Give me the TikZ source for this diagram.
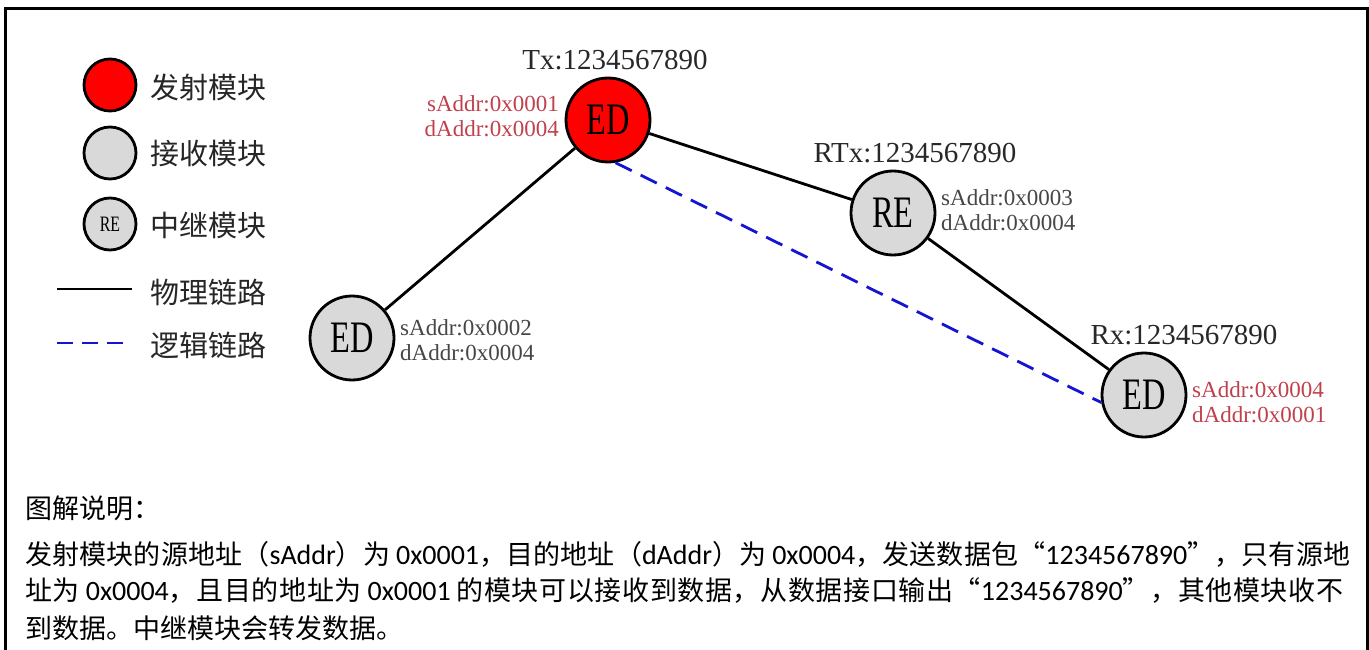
\documentclass[tikz,border=0pt]{standalone}
\usepackage{fontspec}
\setmainfont{Liberation Serif}
\newfontfamily\cjk{Noto Sans CJK SC}
\newfontfamily\lat{Carlito}
\newfontfamily\cond[FakeStretch=0.72]{Liberation Serif}
\definecolor{nodered}{RGB}{255,0,0}
\definecolor{nodegray}{RGB}{217,217,217}
\definecolor{addrred}{RGB}{192,64,77}
\definecolor{addrgray}{RGB}{70,70,70}
\definecolor{linkblue}{RGB}{20,20,210}
\definecolor{labeldark}{RGB}{40,40,40}
% stretchable glue between CJK characters (for justified lines)
\newXeTeXintercharclass\mycjkclass
\newcount\mycjkc
\mycjkc="3000
\loop \XeTeXcharclass\mycjkc=\mycjkclass \advance\mycjkc by 1 \ifnum\mycjkc<"A000 \repeat
\mycjkc="FF00
\loop \XeTeXcharclass\mycjkc=\mycjkclass \advance\mycjkc by 1 \ifnum\mycjkc<"FFF0 \repeat
\XeTeXcharclass"201C=\mycjkclass
\XeTeXcharclass"201D=\mycjkclass
\XeTeXinterchartoks\mycjkclass\mycjkclass={\hskip 0pt plus 1pt\relax}
\XeTeXinterchartokenstate=1
\newcommand{\latsp}{\hspace{6pt}}
\begin{document}
\begin{tikzpicture}[x=1pt,y=-1pt,
  devnode/.style={circle, draw=black, line width=2.8pt, minimum size=84pt, inner sep=0pt,
    font=\cond\fontsize{45}{45}\selectfont},
  legnode/.style={circle, draw=black, line width=2.8pt, minimum size=52pt, inner sep=0pt,
    font=\cond\fontsize{22}{22}\selectfont},
  legtext/.style={anchor=west, inner sep=0pt, font=\cjk\fontsize{29}{29}\selectfont, text=black!85},
  idlabel/.style={inner sep=0pt, font=\fontsize{29}{29}\selectfont, text=labeldark},
  addr/.style={inner sep=0pt, font=\fontsize{23}{25}\selectfont},
  phys/.style={draw=black, line width=2.8pt},
  logic/.style={draw=linkblue, line width=2.8pt, dash pattern=on 18pt off 10pt},
  bodytext/.style={anchor=west, inner sep=0pt, font=\cjk\fontsize{27}{27}\selectfont},
]
\useasboundingbox (0,0) rectangle (1369,650);
\fill[white] (0,0) rectangle (1369,650);
% frame (open at the bottom)
\draw[line width=3pt] (5,700) -- (5,9) -- (1367,9) -- (1367,700);

% legend
\node[legnode, fill=nodered] (lt) at (110,85) {};
\node[legnode, fill=nodegray] (lr) at (110,153) {};
\node[legnode, fill=nodegray] (lre) at (110,224) {RE};
\node[legtext] (ltt) at (150,87) {发射模块};
\node[legtext] (lrt) at (150,154) {接收模块};
\node[legtext] (lret) at (150,225) {中继模块};
\node[legtext] (lpt) at (150,292) {物理链路};
\node[legtext] (llt) at (150,345) {逻辑链路};
\coordinate (lpa) at (57,289);
\coordinate (lpb) at (132,289);
\coordinate (lla) at (57,343);
\coordinate (llb) at (132,343);
\draw[phys] (lpa) -- (lpb);
\draw[logic, dash pattern=on 16pt off 9pt] (lla) -- (llb);

% devices
\node[devnode, fill=nodered] (tx) at (608,120) {ED};
\node[devnode, fill=nodegray] (ed2) at (352,338) {ED};
\node[devnode, fill=nodegray] (re) at (893,213) {RE};
\node[devnode, fill=nodegray] (rx) at (1144,395) {ED};

% links
\draw[phys] (tx) -- (ed2);
\draw[phys] (tx) -- (re);
\draw[phys] (re) -- (rx);
\draw[logic] (tx.280) -- (rx.190);

% labels
\node[idlabel] (txl) at (615,60) {Tx:1234567890};
\node[idlabel] (rel) at (915,153) {RTx:1234567890};
\node[idlabel] (rxl) at (1184,335) {Rx:1234567890};

\node[addr, text=addrred, anchor=east, align=right] (txa) at (559,116) {sAddr:0x0001\\dAddr:0x0004};
\node[addr, text=addrgray, anchor=west, align=left] (eda) at (400,340) {sAddr:0x0002\\dAddr:0x0004};
\node[addr, text=addrgray, anchor=west, align=left] (rea) at (941,210) {sAddr:0x0003\\dAddr:0x0004};
\node[addr, text=addrred, anchor=west, align=left] (rxa) at (1192,402) {sAddr:0x0004\\dAddr:0x0001};

% explanation
\node[bodytext] (b1) at (25,508) {图解说明：};
\node[bodytext] (b2) at (25,554) {\makebox[1325pt][s]{发射模块的源地址（{\lat\fontsize{28}{28}\selectfont sAddr}）为\latsp{\lat\fontsize{28}{28}\selectfont 0x0001}，目的地址（{\lat\fontsize{28}{28}\selectfont dAddr}）为\latsp{\lat\fontsize{28}{28}\selectfont 0x0004}，发送数据包“{\lat\fontsize{28}{28}\selectfont 1234567890}”，只有源地}};
\node[bodytext] (b3) at (25,591) {\makebox[1318pt][s]{址为\latsp{\lat\fontsize{28}{28}\selectfont 0x0004}，且目的地址为\latsp{\lat\fontsize{28}{28}\selectfont 0x0001}\latsp 的模块可以接收到数据，从数据接口输出“{\lat\fontsize{28}{28}\selectfont 1234567890}”，其他模块收不}};
\node[bodytext] (b4) at (25,628) {到数据。中继模块会转发数据。};
\end{tikzpicture}
\end{document}
